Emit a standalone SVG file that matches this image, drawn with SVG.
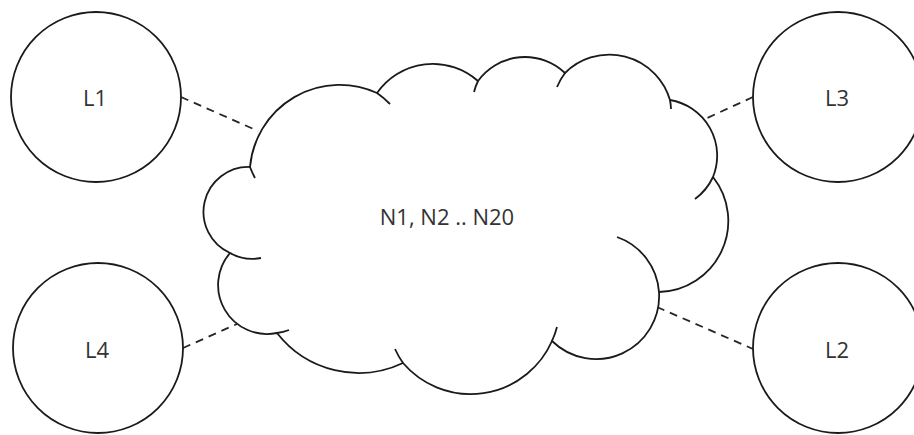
<svg xmlns="http://www.w3.org/2000/svg" width="914" height="435" viewBox="0 0 914 435">
  <style>
    .shape { fill: #ffffff; stroke: #1a1a1a; stroke-width: 1.8; }
    .tail { fill: none; stroke: #1a1a1a; stroke-width: 1.8; }
    .link { fill: none; stroke: #262626; stroke-width: 1.8; stroke-dasharray: 8 6; }
    .label { font-family: "Open Sans", "Noto Sans", "Liberation Sans", sans-serif; font-size: 22px; fill: #333333; text-anchor: middle; }
  </style>
  <rect x="0" y="0" width="914" height="435" fill="#ffffff"/>
  <g id="connectors">
    <line class="link" x1="181" y1="97" x2="258" y2="131"/>
    <line class="link" x1="183" y1="348" x2="237" y2="324"/>
    <line class="link" x1="753" y1="97" x2="705" y2="119"/>
    <line class="link" x1="657" y1="307" x2="753" y2="349"/>
  </g>
  <g id="node-cloud">
    <path class="shape" d="M 250,167 A 90 90 0 0 1 377,93 A 68 68 0 0 1 478,81 A 58 58 0 0 1 565,73 A 63 63 0 0 1 670,100 A 56.5 56.5 0 0 1 713,177 A 71 71 0 0 1 659,292 A 63 63 0 0 1 552,341 A 89 89 0 0 1 403,363 A 103.5 103.5 0 0 1 277,333 A 49 49 0 0 1 230,253 A 45 45 0 0 1 250,167 Z"/>
    <path class="tail" d="M 250,167 A 90 90 0 0 0 255,178"/>
    <path class="tail" d="M 377,93 A 90 90 0 0 1 390,104"/>
    <path class="tail" d="M 478,81 A 58 58 0 0 0 474,92"/>
    <path class="tail" d="M 565,73 A 63 63 0 0 0 557,87"/>
    <path class="tail" d="M 670,100 A 63 63 0 0 1 671,109"/>
    <path class="tail" d="M 713,177 A 56.5 56.5 0 0 1 695,199"/>
    <path class="tail" d="M 659,292 A 63 63 0 0 0 617,237"/>
    <path class="tail" d="M 552,341 A 89 89 0 0 0 557,327"/>
    <path class="tail" d="M 403,363 A 89 89 0 0 1 395,349"/>
    <path class="tail" d="M 277,333 A 49 49 0 0 0 289,330"/>
    <path class="tail" d="M 230,253 A 45 45 0 0 0 261,258"/>
    <text class="label" x="447" y="225">N1, N2 .. N20</text>
  </g>
  <g id="node-L1">
    <circle class="shape" cx="96" cy="97" r="85"/>
    <text class="label" x="95" y="106">L1</text>
  </g>
  <g id="node-L4">
    <circle class="shape" cx="98" cy="348" r="85"/>
    <text class="label" x="97" y="358">L4</text>
  </g>
  <g id="node-L3">
    <circle class="shape" cx="838" cy="97" r="85"/>
    <text class="label" x="837" y="106">L3</text>
  </g>
  <g id="node-L2">
    <circle class="shape" cx="838" cy="348" r="85"/>
    <text class="label" x="837" y="358">L2</text>
  </g>
</svg>
